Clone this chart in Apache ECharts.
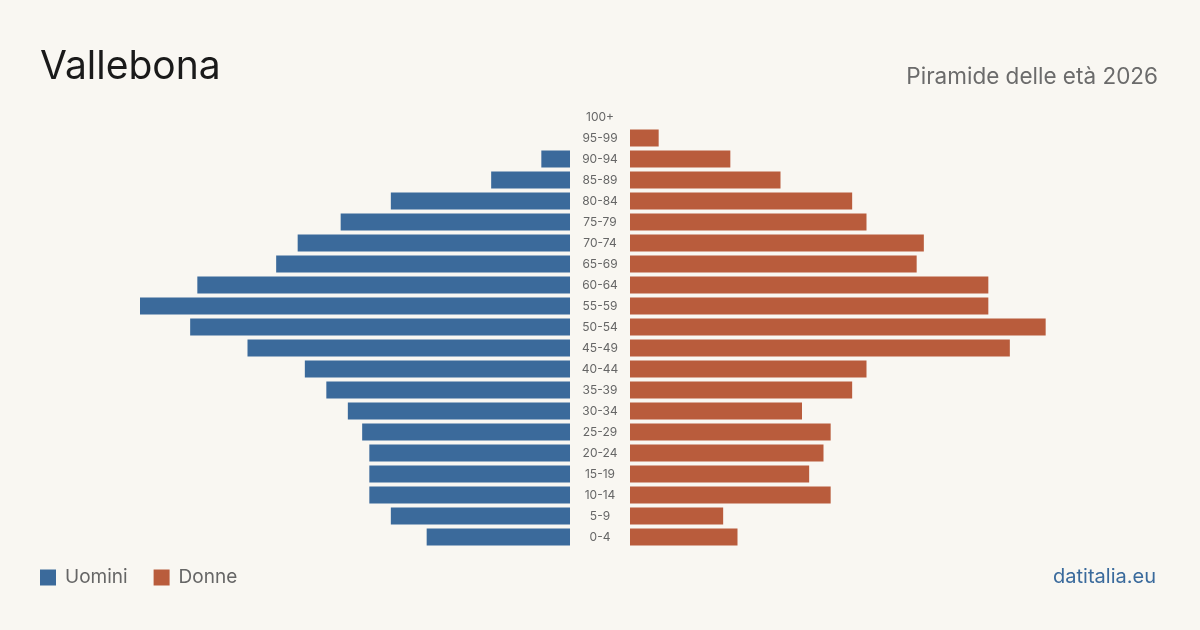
<!DOCTYPE html>
<html>
<head>
<meta charset="utf-8">
<script src="https://cdn.jsdelivr.net/npm/echarts@6/dist/echarts.min.js"></script>
<style>
html,body{margin:0;padding:0;background:#f9f7f2;}
#c{width:1200px;height:630px;}
</style>
</head>
<body>
<div id="c"></div>
<script>
const categories = ['0-4','5-9','10-14','15-19','20-24','25-29','30-34','35-39','40-44','45-49','50-54','55-59','60-64','65-69','70-74','75-79','80-84','85-89','90-94','95-99','100+'];
const men   = [20,25,28,28,28,29,31,34,37,45,53,60,52,41,38,32,25,11,4,0,0];
const women = [15,13,28,25,27,28,24,31,33,53,58,50,50,40,41,33,31,21,14,4,0];
const axisMax = 60;

const FONT = 'Inter, "Noto Sans", sans-serif';
const chart = echarts.init(document.getElementById('c'), null, {renderer:'canvas'});
const gridTop = 106.5, gridH = 441;
chart.setOption({
  backgroundColor:'#f9f7f2',
  animation:false,
  textStyle:{fontFamily:FONT},
  legend:{
    left:35, top:563, icon:'rect', itemWidth:16, itemHeight:16, itemGap:26,
    textStyle:{fontSize:19, color:'#666', fontFamily:FONT, padding:[0,0,0,4]},
    data:['Uomini','Donne']
  },
  graphic:[
    {type:'text', left:40, top:48, style:{text:'Vallebona', fontSize:39, fill:'#1a1a1a', fontFamily:FONT}},
    {type:'text', right:42, top:66, style:{text:'Piramide delle età 2026', fontSize:22.5, fill:'#6b6b6b', fontFamily:FONT}},
    {type:'text', right:44, top:567, style:{text:'datitalia.eu', fontSize:20, fill:'#3a6a9c', fontFamily:FONT}}
  ],
  grid:[
    {left:140, width:430, top:gridTop, height:gridH},
    {left:630, width:430, top:gridTop, height:gridH}
  ],
  xAxis:[
    {gridIndex:0, type:'value', min:0, max:axisMax, inverse:true, show:false},
    {gridIndex:1, type:'value', min:0, max:axisMax, show:false}
  ],
  yAxis:[
    {gridIndex:0, type:'category', data:categories, position:'right',
     axisLine:{show:false}, axisTick:{show:false},
     axisLabel:{margin:30, align:'center', fontSize:12, color:'#666', fontFamily:FONT}},
    {gridIndex:1, type:'category', data:categories, show:false}
  ],
  series:[
    {name:'Uomini', type:'bar', xAxisIndex:0, yAxisIndex:0, data:men, barWidth:17, itemStyle:{color:'#3b6a9b'}},
    {name:'Donne', type:'bar', xAxisIndex:1, yAxisIndex:1, data:women, barWidth:17, itemStyle:{color:'#b95c3c'}}
  ]
});
</script>
</body>
</html>
